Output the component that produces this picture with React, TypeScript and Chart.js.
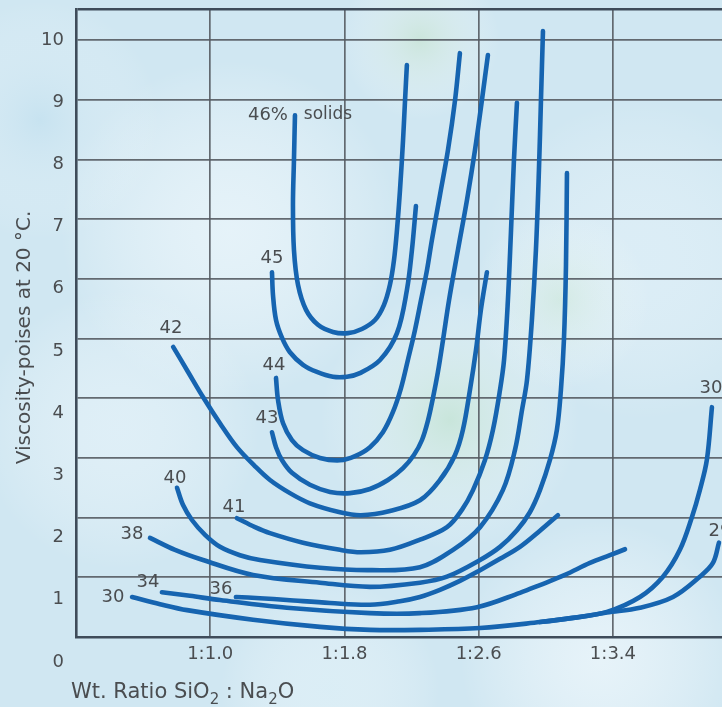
import React, { useEffect, useRef } from 'react';
import { Chart, registerables } from 'chart.js';

Chart.register(...registerables);

// ---- axis values ----
const X_TICKS = [0.2, 1.0, 1.8, 2.6, 3.4];
const X_TICK_LABELS = ['', '1:1.0', '1:1.8', '1:2.6', '1:3.4'];
const X_MIN = 0.2;
const X_MAX = 4.05;
const Y_GRID = [0, 1, 2, 3, 4, 5, 6, 7, 8, 9, 10];
const Y_TICK_LABELS = ['0', '1', '2', '3', '4', '5', '6', '7', '8', '9', '10'];
const Y_TOP = 10.52;

// ---- series: [ratio, viscosity] ----
const S46: [number, number][] = [
  [1.505, 8.74], [1.499, 7.99], [1.493, 7.24], [1.499, 6.48], [1.523, 5.9], [1.571, 5.48],
  [1.642, 5.23], [1.731, 5.11], [1.821, 5.09], [1.904, 5.16], [1.982, 5.31], [2.035, 5.56],
  [2.071, 5.9], [2.095, 6.31], [2.113, 6.82], [2.131, 7.49], [2.149, 8.32], [2.161, 8.99],
  [2.172, 9.58],
];
const S45: [number, number][] = [
  [1.368, 6.11], [1.374, 5.73], [1.392, 5.31], [1.428, 5.01], [1.475, 4.77], [1.553, 4.56],
  [1.636, 4.44], [1.731, 4.36], [1.815, 4.36], [1.892, 4.42], [2.012, 4.64], [2.113, 5.09],
  [2.172, 5.81], [2.202, 6.48], [2.226, 7.22],
];
const S44: [number, number][] = [
  [1.392, 4.34], [1.404, 3.97], [1.434, 3.58], [1.487, 3.3], [1.553, 3.13], [1.654, 3.0],
  [1.773, 2.96], [1.863, 3.03], [1.952, 3.18], [2.029, 3.43], [2.089, 3.77], [2.137, 4.17],
  [2.178, 4.64], [2.22, 5.14], [2.256, 5.64], [2.292, 6.15], [2.321, 6.65], [2.369, 7.4],
  [2.417, 8.16], [2.459, 8.99], [2.488, 9.78],
];
const S43: [number, number][] = [
  [1.368, 3.43], [1.392, 3.18], [1.428, 2.96], [1.487, 2.75], [1.594, 2.55], [1.714, 2.43],
  [1.833, 2.41], [1.952, 2.48], [2.059, 2.63], [2.149, 2.83], [2.214, 3.05], [2.262, 3.3],
  [2.298, 3.63], [2.327, 4.0], [2.357, 4.44], [2.387, 4.97], [2.423, 5.64], [2.476, 6.48],
  [2.53, 7.32], [2.578, 8.16], [2.619, 8.99], [2.655, 9.75],
];
const S42: [number, number][] = [
  [0.779, 4.86], [0.868, 4.44], [0.957, 4.02], [1.058, 3.58], [1.159, 3.18], [1.267, 2.86],
  [1.356, 2.63], [1.475, 2.41], [1.594, 2.24], [1.773, 2.09], [1.898, 2.04], [2.071, 2.11],
  [2.25, 2.29], [2.369, 2.63], [2.459, 3.05], [2.506, 3.47], [2.548, 4.14], [2.584, 4.81],
  [2.613, 5.48], [2.649, 6.11],
];
const S41: [number, number][] = [
  [1.159, 1.99], [1.267, 1.84], [1.356, 1.74], [1.553, 1.58], [1.773, 1.46], [1.898, 1.42],
  [2.071, 1.46], [2.25, 1.63], [2.411, 1.84], [2.5, 2.13], [2.566, 2.46], [2.637, 2.96],
  [2.685, 3.47], [2.727, 4.14], [2.751, 4.64], [2.774, 5.64], [2.792, 6.77], [2.81, 7.99],
  [2.828, 8.95],
];
const S40: [number, number][] = [
  [0.802, 2.5], [0.838, 2.21], [0.891, 1.96], [0.969, 1.71], [1.058, 1.51], [1.177, 1.37],
  [1.296, 1.29], [1.654, 1.16], [1.952, 1.12], [2.25, 1.17], [2.447, 1.46], [2.608, 1.84],
  [2.744, 2.46], [2.816, 3.13], [2.858, 3.8], [2.888, 4.31], [2.917, 5.31], [2.941, 6.48],
  [2.959, 7.82], [2.971, 8.99], [2.983, 10.15],
];
const S38: [number, number][] = [
  [0.641, 1.66], [0.79, 1.46], [0.957, 1.29], [1.255, 1.04], [1.654, 0.91], [1.952, 0.84],
  [2.25, 0.91], [2.411, 1.01], [2.608, 1.29], [2.727, 1.51], [2.828, 1.79], [2.905, 2.09],
  [2.965, 2.46], [3.025, 2.97], [3.066, 3.47], [3.09, 4.14], [3.108, 4.98], [3.12, 6.2],
  [3.126, 7.77],
];
const S36: [number, number][] = [
  [1.153, 0.67], [1.296, 0.65], [1.457, 0.62], [1.714, 0.57], [1.952, 0.54], [2.131, 0.6],
  [2.25, 0.67], [2.369, 0.79], [2.488, 0.94], [2.608, 1.12], [2.727, 1.31], [2.846, 1.51],
  [2.965, 1.78], [3.072, 2.04],
];
const S34: [number, number][] = [
  [0.712, 0.75], [0.879, 0.69], [1.058, 0.62], [1.457, 0.49], [1.952, 0.4], [2.25, 0.4],
  [2.59, 0.5], [2.846, 0.74], [2.965, 0.87], [3.114, 1.04], [3.263, 1.24], [3.382, 1.37],
  [3.472, 1.47],
];
const S30: [number, number][] = [
  [0.534, 0.67], [0.701, 0.55], [0.862, 0.45], [1.255, 0.29], [1.654, 0.17], [1.952, 0.12],
  [2.25, 0.12], [2.608, 0.15], [2.965, 0.25], [3.162, 0.32], [3.364, 0.42], [3.561, 0.67],
  [3.698, 1.01], [3.799, 1.46], [3.871, 2.01], [3.918, 2.46], [3.96, 2.97], [3.99, 3.85],
];
const S29: [number, number][] = [
  [2.965, 0.25], [3.162, 0.32], [3.364, 0.41], [3.561, 0.49], [3.758, 0.67], [3.918, 1.01],
  [3.996, 1.24], [4.032, 1.58],
];

const SERIES_NAMES = ['46%', '45%', '44%', '43%', '42%', '41%', '40%', '38%', '36%', '34%', '30%', '29%'];
const SERIES = [S46, S45, S44, S43, S42, S41, S40, S38, S36, S34, S30, S29];

// ---- curve annotations (text, ratio, viscosity) ----
const LABEL_TEXTS = ['46%', 'solids', '45', '44', '43', '42', '41', '40', '38', '36', '34', '30', '30', '29'];
const LABEL_X = [1.344, 1.702, 1.368, 1.38, 1.338, 0.766, 1.142, 0.79, 0.534, 1.064, 0.629, 0.42, 3.984, 4.038];
const LABEL_Y = [8.744, 8.744, 6.348, 4.556, 3.668, 5.176, 2.178, 2.663, 1.725, 0.804, 0.921, 0.67, 4.171, 1.776];

const FONT = '"DejaVu Sans", "Noto Sans", sans-serif';
const TEXT = '#4a4d50';
const LINE = '#1664b0';
const GRID = 'rgba(85,91,98,0.9)';
const BORDER = '#3f4c5a';

export default function App() {
  const ref = useRef<HTMLCanvasElement>(null);

  useEffect(() => {
    const canvas = ref.current;
    if (!canvas) return;

    const bgPlugin = {
      id: 'bg',
      beforeDraw(chart: any) {
        const { ctx, width, height } = chart;
        ctx.save();
        ctx.fillStyle = '#d0e7f2';
        ctx.fillRect(0, 0, width, height);
        const blob = (x: number, y: number, r: number, c: string) => {
          const g = ctx.createRadialGradient(x, y, 0, x, y, r);
          g.addColorStop(0, c);
          g.addColorStop(1, 'rgba(255,255,255,0)');
          ctx.fillStyle = g;
          ctx.fillRect(0, 0, width, height);
        };
        blob(230, 230, 170, 'rgba(236,246,251,0.75)');
        blob(120, 430, 140, 'rgba(232,244,250,0.6)');
        blob(640, 260, 160, 'rgba(228,242,250,0.55)');
        blob(450, 420, 130, 'rgba(196,228,206,0.65)');
        blob(420, 40, 80, 'rgba(200,228,205,0.6)');
        blob(560, 300, 90, 'rgba(205,232,212,0.5)');
        blob(600, 660, 140, 'rgba(240,248,252,0.7)');
        blob(330, 690, 110, 'rgba(225,242,248,0.6)');
        blob(40, 120, 120, 'rgba(190,222,238,0.5)');
        ctx.restore();
      },
    };

    const textPlugin = {
      id: 'texts',
      afterDatasetsDraw(chart: any) {
        const { ctx } = chart;
        const xs = chart.scales.x;
        const ys = chart.scales.y;
        const yl = chart.scales.yLab;
        ctx.save();
        ctx.fillStyle = TEXT;
        ctx.textBaseline = 'middle';
        ctx.textAlign = 'center';
        LABEL_TEXTS.forEach((t, i) => {
          ctx.font = t === 'solids' ? `17px ${FONT}` : `18px ${FONT}`;
          ctx.fillText(t, xs.getPixelForValue(LABEL_X[i]), ys.getPixelForValue(LABEL_Y[i]));
        });
        // y tick labels
        ctx.font = `18px ${FONT}`;
        ctx.textAlign = 'right';
        Y_TICK_LABELS.forEach((t, i) => {
          ctx.fillText(t, xs.left - 12, yl.getPixelForValue(Y_GRID[i]));
        });
        // x title with real subscripts
        const base = 698;
        let cx = xs.left - 5;
        ctx.textAlign = 'left';
        ctx.textBaseline = 'alphabetic';
        const seg = (t: string, sub: boolean) => {
          ctx.font = sub ? `15px ${FONT}` : `21px ${FONT}`;
          ctx.fillText(t, cx, sub ? base + 6 : base);
          cx += ctx.measureText(t).width;
        };
        seg('Wt. Ratio SiO', false);
        seg('2', true);
        seg(' : Na', false);
        seg('2', true);
        seg('O', false);
        // y title
        ctx.font = `20px ${FONT}`;
        ctx.textAlign = 'center';
        ctx.textBaseline = 'middle';
        ctx.translate(25, (ys.top + yl.getPixelForValue(0)) / 2 + 2);
        ctx.rotate(-Math.PI / 2);
        ctx.fillText('Viscosity-poises at 20 °C.', 0, 0);
        ctx.restore();
      },
    };

    const chart = new Chart(canvas, {
      type: 'line',
      data: {
        datasets: SERIES.map((s, i) => ({
          label: SERIES_NAMES[i],
          data: s.map(([x, y]) => ({ x, y })),
          borderColor: LINE,
          borderWidth: 4.6,
          borderCapStyle: 'round' as const,
          pointRadius: 0,
          tension: 0.35,
          fill: false,
        })),
      },
      options: {
        animation: false,
        responsive: false,
        devicePixelRatio: 1,
        layout: { padding: { top: 9, left: 0, right: 0, bottom: 0 } },
        plugins: { legend: { display: false }, tooltip: { enabled: false } },
        scales: {
          x: {
            type: 'linear',
            min: X_MIN,
            max: X_MAX,
            afterBuildTicks: (s: any) => {
              s.ticks = X_TICKS.map((v) => ({ value: v }));
            },
            afterFit: (s: any) => {
              s.height = 70;
            },
            ticks: {
              padding: 7,
              color: TEXT,
              font: { family: FONT, size: 18 },
              maxRotation: 0,
              autoSkip: false,
              callback: (_v: any, i: number) => X_TICK_LABELS[i],
            },
            grid: { color: GRID, lineWidth: 1.7, drawTicks: false },
            border: { display: true, color: BORDER, width: 2.6 },
          },
          y: {
            type: 'linear',
            min: 0,
            max: Y_TOP,
            afterBuildTicks: (s: any) => {
              s.ticks = [...Y_GRID, Y_TOP].map((v) => ({ value: v }));
            },
            afterFit: (s: any) => {
              s.width = 76;
            },
            ticks: { display: false },
            grid: {
              drawTicks: false,
              color: (c: any) => (c.tick && c.tick.value === Y_TOP ? BORDER : GRID),
              lineWidth: (c: any) => (c.tick && c.tick.value === Y_TOP ? 2.6 : 1.7),
            },
            border: { display: true, color: BORDER, width: 2.6 },
          },
          yLab: {
            type: 'linear',
            display: false,
            position: 'left',
            min: 0.402,
            max: 10.498,
          },
        },
      },
      plugins: [bgPlugin, textPlugin],
    } as any);

    return () => chart.destroy();
  }, []);

  return (
    <div style={{ position: 'fixed', left: 0, top: 0, width: 722, height: 707, overflow: 'hidden' }}>
      <canvas ref={ref} width={722} height={707} style={{ display: 'block', width: 722, height: 707 }} />
    </div>
  );
}
